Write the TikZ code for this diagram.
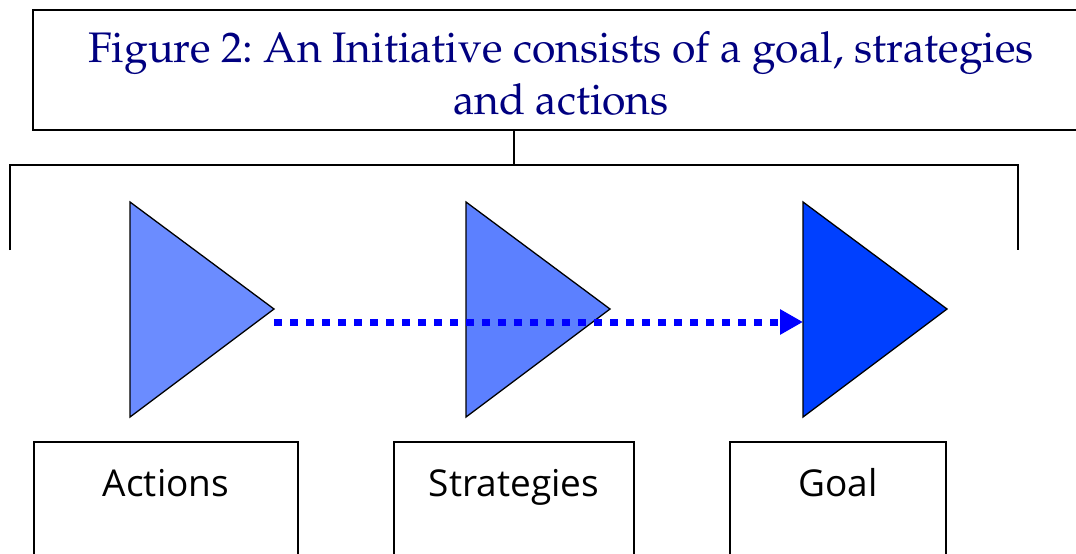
\documentclass[tikz,border=0pt]{standalone}
\usepackage[T1]{fontenc}
\usepackage{fontspec}
\newfontfamily\labelfont{Open Sans}
\newcommand{\titlefont}{\fontencoding{T1}\fontfamily{ppl}\selectfont}
\usetikzlibrary{arrows.meta}
\frenchspacing
\definecolor{navytxt}{RGB}{0,0,128}
\definecolor{actfill}{RGB}{107,140,255}
\definecolor{strfill}{RGB}{92,128,255}
\definecolor{goalfill}{RGB}{0,64,255}
\definecolor{arrowblue}{RGB}{0,0,255}
\tikzset{
  frame/.style={draw=black, line width=1.5pt},
  tri/.style={draw=black, line width=1.3pt, line join=miter},
  labelbox/.style={draw=black, line width=1.5pt, fill=white},
  titletext/.style={text=navytxt, font=\titlefont\fontsize{42.7}{52}\selectfont, inner sep=0pt, anchor=base},
  labeltext/.style={font=\labelfont\fontsize{37}{42}\selectfont, text=black, inner sep=0pt, anchor=base},
  flow/.style={draw=arrowblue, line width=7pt, dash pattern=on 7.5pt off 8.5pt,
    -{Triangle[length=23pt,width=24pt]}}
}
\begin{document}
\begin{tikzpicture}[x=1pt,y=-1pt]
\useasboundingbox (0,0) rectangle (1076,554);
% title box
\node[frame, rectangle, minimum width=1056pt, minimum height=120pt, inner sep=0pt] (title) at (561,70) {};
\node[titletext] (titleA) at (561,62) {Figure 2: An Initiative consists of a goal, strategies};
\node[titletext] (titleB) at (561,114) {and actions};
% bracket
\coordinate (bar) at (514,165);
\coordinate (barL) at (10,165);
\coordinate (barR) at (1018,165);
\coordinate (legL) at (10,250);
\coordinate (legR) at (1018,250);
\draw[frame] (title.south -| bar) -- (bar);
\draw[frame] (legL) -- (barL) -- (barR) -- (legR);
% triangles
\coordinate (aT) at (130,202); \coordinate (aB) at (130,417); \coordinate (aP) at (274,309);
\coordinate (sT) at (466,202); \coordinate (sB) at (466,417); \coordinate (sP) at (610,309);
\coordinate (gT) at (803,202); \coordinate (gB) at (803,417); \coordinate (gP) at (947,309);
\filldraw[tri, fill=actfill] (aT) -- (aP) -- (aB) -- cycle;
\filldraw[tri, fill=strfill] (sT) -- (sP) -- (sB) -- cycle;
\filldraw[tri, fill=goalfill] (gT) -- (gP) -- (gB) -- cycle;
% dotted arrow
\coordinate (flowS) at (274,322);
\coordinate (flowE) at (803,322);
\draw[flow] (flowS) -- (flowE);
% bottom boxes
\draw[labelbox] (34,580) -- (34,442) -- (298,442) -- (298,580);
\draw[labelbox] (394,580) -- (394,442) -- (634,442) -- (634,580);
\draw[labelbox] (730,580) -- (730,442) -- (946,442) -- (946,580);
\node[labeltext] (actions) at (166,496) {Actions};
\node[labeltext] (strategies) at (514,496) {Strategies};
\node[labeltext] (goal) at (838,496) {Goal};
\end{tikzpicture}
\end{document}
